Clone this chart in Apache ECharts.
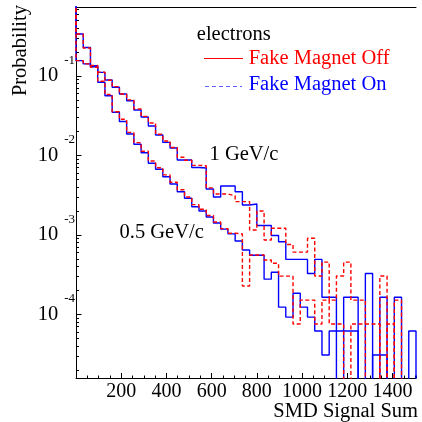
<!DOCTYPE html>
<html><head><meta charset="utf-8">
<script src="https://cdn.jsdelivr.net/npm/echarts@6/dist/echarts.min.js"></script>
<style>html,body{margin:0;padding:0;background:#fff}#c{width:422px;height:422px}</style>
</head><body><div id="c"></div>
<script>
// ---- data ----
const binWidth = 32;          // SMD signal-sum bin width
const xMax = 1504;            // 47 bins
const xTickLabels = [200, 400, 600, 800, 1000, 1200, 1400];
const yDecades = [1e-4, 1e-3, 1e-2, 1e-1];
const yMin = 1.578e-5, yMax = 0.739;

// 1 GeV/c, Fake Magnet On (blue) / Off (red)
const p1GeV_on = [0.156, 0.142, 0.131, 0.111, 0.089, 0.0721, 0.0593, 0.0489, 0.0373, 0.0305,
  0.0235, 0.0181, 0.0146, 0.0124, 0.00876, 0.00876, 0.00705, 0.00695, 0.00378, 0.0030,
  0.00412, 0.00412, 0.00349, 0.00238, 0.00245, 0.00131, 0.00131, 0.000982, 0.000818, 0.000491,
  0.000491, 0.000491, 0.000327, 0.000491, 0.000164, 0.000164, 0, 0.000164, 0.000164, 0,
  0.000327, 0, 0.000164, 0, 0.000164, 0, 0];
const p1GeV_off = [0.156, 0.142, 0.129, 0.112, 0.0885, 0.0735, 0.0593, 0.0500, 0.0385, 0.0310,
  0.0256, 0.0185, 0.0152, 0.0126, 0.0095, 0.0087, 0.0075, 0.0074, 0.0039, 0.00327,
  0.00327, 0.0031, 0.00262, 0.00262, 0.00115, 0.0020, 0.000862, 0.00121, 0.00121, 0.000757,
  0.000606, 0.000606, 0.000908, 0.000303, 0.000454, 0.000151, 0.000303, 0.000454, 0.000151, 0.000151,
  0, 0, 0.000303, 0, 0.000151, 0, 0];
// 0.5 GeV/c
const p05GeV_on = [0.338, 0.2285, 0.1348, 0.0833, 0.0565, 0.0349, 0.0267, 0.0186, 0.0138, 0.0108,
  0.00796, 0.00669, 0.0054, 0.00437, 0.00349, 0.00289, 0.00226, 0.0020, 0.00168, 0.00141,
  0.00118, 0.00103, 0.000837, 0.000645, 0.000553, 0.000553, 0.000277, 0.000338, 0.000123, 0.0000922,
  0.000184, 0.000123, 0.0000922, 0.0000615, 0.0000307, 0.0000615, 0.0000615, 0.0000615, 0.0000615, 0,
  0, 0.0000307, 0.0000307, 0, 0, 0, 0.0000615];
const p05GeV_off = [0.338, 0.225, 0.136, 0.086, 0.0585, 0.0355, 0.0285, 0.0195, 0.0145, 0.0113,
  0.0085, 0.0070, 0.0057, 0.0046, 0.0037, 0.0030, 0.0024, 0.0021, 0.00175, 0.00145,
  0.0012, 0.00105, 0.00103, 0.000227, 0.000558, 0.000558, 0.000483, 0.000439, 0.000302, 0.000302,
  0.0000755, 0.000151, 0.000151, 0.0000755, 0.000151, 0.0000755, 0.0000755, 0, 0.0000755, 0.0000755,
  0.0000755, 0.0000755, 0, 0.0000755, 0, 0, 0];

// ---- helpers ----
const FLOOR = 1e-8;   // empty bins drop below the frame (log scale)
const ZERO_BIN = 10;  // outline starts off-scale at x = 0
function outline(vals) {
  const pts = [[0, ZERO_BIN]];
  vals.forEach((v, i) => {
    const y = v > 0 ? v : FLOOR;
    pts.push([i * binWidth, y]);
    pts.push([(i + 1) * binWidth, y]);
  });
  pts.push([vals.length * binWidth, FLOOR]);
  return pts;
}
const minorY = [];
[1e-5, 1e-4, 1e-3, 1e-2, 1e-1].forEach(d => { for (let m = 2; m <= 9; m++) { const v = m * d; if (v > yMin && v < yMax) minorY.push(v); } });

const SERIF = '"Liberation Serif","DejaVu Serif",serif';
const FS = 20.5;

const chart = echarts.init(document.getElementById('c'), null, {renderer: 'canvas'});
const blue = '#0000ff', red = '#ff0000';
function histSeries(vals, color, dashed, z) {
  return {
    type: 'line', data: outline(vals), xAxisIndex: 0, yAxisIndex: 0,
    symbol: 'none', showSymbol: false, clip: true, z: z, silent: true,
    lineStyle: {color: color, width: 1.4, type: dashed ? [4, 2.5] : 'solid'}
  };
}

chart.setOption({
  animation: false,
  backgroundColor: '#fff',
  grid: {left: 76, right: 6, top: 7, bottom: 44, containLabel: false, outerBoundsMode: 'none'},
  xAxis: [
    {type: 'value', min: 0, max: xMax, interval: 50, position: 'bottom',
      axisLine: {show: true, onZero: false, lineStyle: {color: '#000', width: 1}},
      axisTick: {show: true, inside: true, length: 2.5, lineStyle: {color: '#000'}},
      axisLabel: {show: false}, splitLine: {show: false}},
    {type: 'value', min: 0, max: xMax, position: 'bottom',
      axisLine: {show: false, onZero: false},
      axisTick: {show: true, inside: true, length: 5, customValues: xTickLabels, lineStyle: {color: '#000'}},
      axisLabel: {show: true, customValues: xTickLabels, margin: 4, color: '#000', fontFamily: SERIF, fontSize: 20,
        formatter: v => String(Math.round(v))},
      splitLine: {show: false}},
    {type: 'value', min: 0, max: xMax, position: 'top',
      axisLine: {show: true, onZero: false, lineStyle: {color: '#000', width: 1}},
      axisTick: {show: false}, axisLabel: {show: false}, splitLine: {show: false}}
  ],
  yAxis: [
    {type: 'log', min: yMin, max: yMax, position: 'left',
      axisLine: {show: true, onZero: false, lineStyle: {color: '#000', width: 1}},
      axisTick: {show: true, inside: true, length: 5.5, customValues: yDecades, lineStyle: {color: '#000'}},
      minorTick: {show: false}, splitLine: {show: false},
      axisLabel: {show: true, customValues: yDecades, margin: 1, color: '#000',
        formatter: v => '{b|10}{s|' + Math.round(Math.log10(v)) + '}',
        rich: {
          b: {fontFamily: SERIF, fontSize: FS, color: '#000', lineHeight: 44},
          s: {fontFamily: SERIF, fontSize: 13, color: '#000', lineHeight: 20, verticalAlign: 'top', padding: [0, 0, 0, 6]}
        }}},
    {type: 'log', min: yMin, max: yMax, position: 'left',
      axisLine: {show: false, onZero: false},
      axisTick: {show: true, inside: true, length: 3, customValues: minorY, lineStyle: {color: '#000'}},
      axisLabel: {show: false}, splitLine: {show: false}, minorTick: {show: false}}
  ],
  series: [
    histSeries(p05GeV_on, blue, false, 2),
    histSeries(p1GeV_on, blue, false, 2),
    histSeries(p05GeV_off, red, true, 3),
    histSeries(p1GeV_off, red, true, 3)
  ],
  graphic: [
    {type: 'text', x: 196.8, y: 35, style: {text: 'electrons', fill: '#000', font: FS + 'px ' + SERIF, textVerticalAlign: 'middle'}},
    {type: 'line', shape: {x1: 204, y1: 58.5, x2: 243, y2: 58.5}, style: {stroke: red, lineWidth: 1.2}},
    {type: 'text', x: 248.7, y: 59, style: {text: 'Fake Magnet Off', fill: red, font: FS + 'px ' + SERIF, textVerticalAlign: 'middle'}},
    {type: 'line', shape: {x1: 205, y1: 86.5, x2: 242, y2: 86.5}, style: {stroke: '#6060ff', lineWidth: 1, lineDash: [4, 3]}},
    {type: 'text', x: 248.7, y: 84.5, style: {text: 'Fake Magnet On', fill: blue, font: FS + 'px ' + SERIF, textVerticalAlign: 'middle'}},
    {type: 'text', x: 209.5, y: 155, style: {text: '1 GeV/c', fill: '#000', font: FS + 'px ' + SERIF, textVerticalAlign: 'middle'}},
    {type: 'text', x: 119.5, y: 233, style: {text: '0.5 GeV/c', fill: '#000', font: FS + 'px ' + SERIF, textVerticalAlign: 'middle'}},
    {type: 'text', x: 418, y: 412, style: {text: 'SMD Signal Sum', fill: '#000', font: FS + 'px ' + SERIF, textAlign: 'right', textVerticalAlign: 'middle'}},
    {type: 'text', x: 21, y: 5, rotation: Math.PI / 2, style: {text: 'Probability', fill: '#000', font: FS + 'px ' + SERIF, textAlign: 'right', textVerticalAlign: 'middle'}}
  ]
});
</script></body></html>
